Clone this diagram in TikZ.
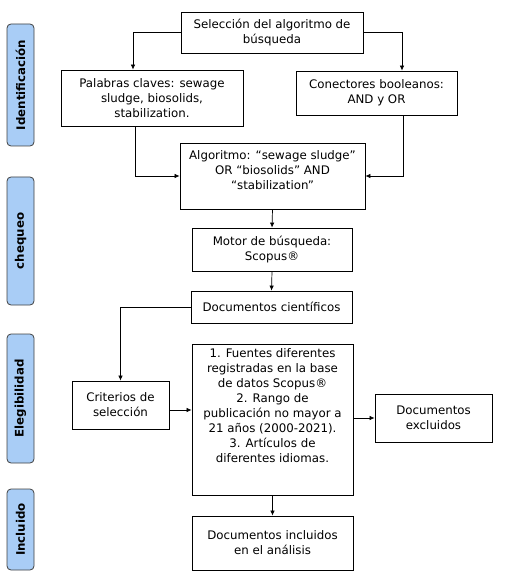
\documentclass[tikz,border=0pt]{standalone}
\usepackage{fontspec}
\setmainfont{DejaVu Sans}
\usetikzlibrary{arrows.meta}
\definecolor{sideblue}{RGB}{169,205,246}
\begin{document}
\begin{tikzpicture}[x=1pt,y=-1pt,
  box/.style={draw, line width=0.8pt, align=center, inner sep=0pt, font=\fontsize{11.8}{15}\selectfont},
  side/.style={draw=black!75, fill=sideblue, rounded corners=4pt, line width=0.8pt, inner sep=0pt,
    minimum height=27pt, font=\bfseries\fontsize{11.8}{13}\selectfont, rotate=90},
  arr/.style={-{Latex[length=5pt,width=4.5pt]}, line width=0.7pt}]
\useasboundingbox (0,0) rectangle (517,577);
% side labels
\node[side, minimum width=122pt] (sIdent) at (20.5,85) {Identificación};
\node[side, minimum width=128pt] (sCheq) at (20.5,241) {chequeo};
\node[side, minimum width=129pt] (sEleg) at (20.5,398.5) {Elegibilidad};
\node[side, minimum width=81pt] (sIncl) at (20.5,529.5) {Incluido};
% boxes
\node[box, minimum width=182pt, minimum height=41pt] (sel) at (272,32.5) {Selección del algoritmo de\\búsqueda};
\node[box, minimum width=182pt, minimum height=56pt] (pal) at (152,98) {Palabras claves: sewage\\sludge, biosolids,\\stabilization.};
\node[box, minimum width=161pt, minimum height=44pt] (con) at (376.5,93) {Conectores booleanos:\\AND y OR};
\node[box, minimum width=185pt, minimum height=66pt] (alg) at (272.5,176) {Algoritmo: “sewage sludge”\\OR “biosolids” AND\\“stabilization”\\[-4pt]\mbox{}};
\node[box, minimum width=160pt, minimum height=43pt] (mot) at (272,249.5) {Motor de búsqueda:\\Scopus®};
\node[box, minimum width=161pt, minimum height=32pt] (doc) at (271.5,307) {Documentos científicos};
\node[box, minimum width=161pt, minimum height=151pt] (fue) at (272.5,419.5) {1. Fuentes diferentes\\registradas en la base\\de datos Scopus®\\2. Rango de\\publicación no mayor a\\21 años (2000-2021).\\3. Artículos de\\diferentes idiomas.\\[12pt]\mbox{}};
\node[box, minimum width=97pt, minimum height=48pt] (cri) at (120.5,405) {Criterios de\\selección};
\node[box, minimum width=117pt, minimum height=48pt] (exc) at (433.5,418) {Documentos\\excluidos};
\node[box, minimum width=161pt, minimum height=54pt] (inc) at (272.5,543) {Documentos incluidos\\en el análisis};
% connectors
\draw[arr] (sel.west) -| ([xshift=-19pt]pal.north);
\draw[arr] (sel.east) -| ([xshift=25.5pt]con.north);
\draw[arr] ([xshift=-17pt]pal.south) |- (alg.west);
\draw[arr] ([xshift=26.5pt]con.south) |- (alg.east);
\draw[arr] (alg.south) -- (mot.north);
\draw[arr] (mot.south) -- (doc.north);
\draw[arr] (doc.west) -| (cri.north);
\draw[arr] ([yshift=-5pt]cri.east) -- ([yshift=-5pt]cri.east -| fue.west);
\draw[arr] (fue.east |- exc.west) -- (exc.west);
\draw[arr] (fue.south) -- (inc.north);
\end{tikzpicture}
\end{document}
